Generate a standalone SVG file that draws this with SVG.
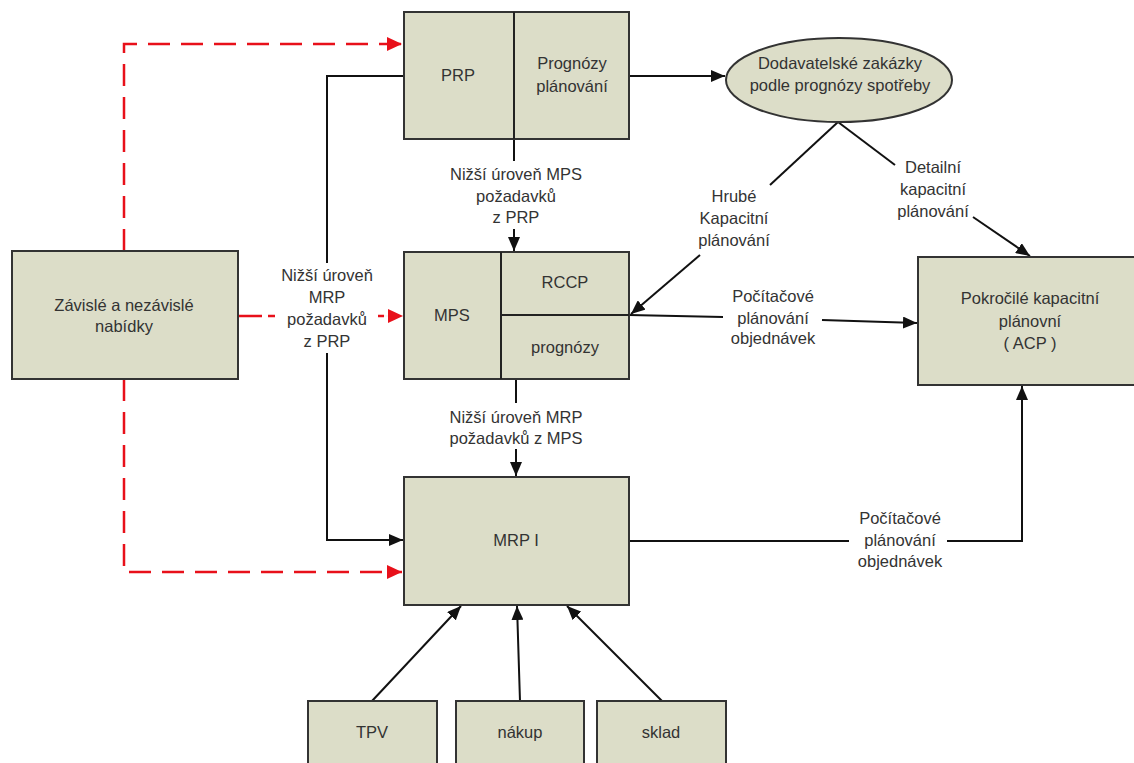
<svg xmlns="http://www.w3.org/2000/svg" width="1134" height="763" viewBox="0 0 1134 763">
  <defs>
    <marker id="arrow" viewBox="0 0 14 12" refX="14" refY="6" markerWidth="14" markerHeight="12" markerUnits="userSpaceOnUse" orient="auto">
      <path d="M0,0 L14,6 L0,12 Z" fill="#111"/>
    </marker>
    <marker id="arrowRed" viewBox="0 0 15 14" refX="15" refY="7" markerWidth="15" markerHeight="14" markerUnits="userSpaceOnUse" orient="auto">
      <path d="M0,0 L15,7 L0,14 Z" fill="#e8101a"/>
    </marker>
    <style>
      .box { fill: #dcddc8; stroke: #333; stroke-width: 2; }
      .div { stroke: #222; stroke-width: 2; fill: none; }
      .t { font-family: "Liberation Sans", Arial, sans-serif; font-size: 16.5px; fill: #333; text-anchor: middle; }
      .lbl { font-family: "Liberation Sans", Arial, sans-serif; font-size: 16.5px; fill: #333; text-anchor: middle; }
      .ln { stroke: #111; stroke-width: 2; fill: none; }
      .red { stroke: #e8101a; stroke-width: 2.5; fill: none; stroke-dasharray: 22 11; }
      .redsolid { stroke: #e8101a; stroke-width: 2.5; fill: none; }
    </style>
  </defs>
  <rect width="1134" height="763" fill="#fff"/>

  <!-- connectors -->
  <g id="connectors">
    <!-- dashed supply links from the left box -->
    <path class="red" d="M124,251 V44 H402" marker-end="url(#arrowRed)"/>
    <path class="redsolid" d="M238,316 H262 M268,316 H275 M378,316 H384"/>
    <path class="redsolid" d="M384,316 H403" style="stroke-width:0.1" marker-end="url(#arrowRed)"/>
    <path class="red" d="M124,379 V572 H402" marker-end="url(#arrowRed)"/>

    <!-- PRP to MRP I -->
    <path class="ln" d="M404,76 H327 V263"/>
    <path class="ln" d="M327,353 V540 H403" marker-end="url(#arrow)"/>

    <!-- PRP to forecast orders -->
    <path class="ln" d="M629,76 H725" marker-end="url(#arrow)"/>

    <!-- PRP to MPS -->
    <path class="ln" d="M514,139 V161"/>
    <path class="ln" d="M514,229 V251" marker-end="url(#arrow)"/>

    <!-- MPS to MRP I -->
    <path class="ln" d="M516,379 V403"/>
    <path class="ln" d="M516,449 V476" marker-end="url(#arrow)"/>

    <!-- ellipse to MPS (rough capacity) -->
    <path class="ln" d="M838,122 L770,185"/>
    <path class="ln" d="M700,255 L631,314" marker-end="url(#arrow)"/>

    <!-- ellipse to ACP (detailed capacity) -->
    <path class="ln" d="M838,122 L895,165"/>
    <path class="ln" d="M973,217 L1030,256" marker-end="url(#arrow)"/>

    <!-- MPS to ACP -->
    <path class="ln" d="M629,315 L723,317"/>
    <path class="ln" d="M822,320 L917,323" marker-end="url(#arrow)"/>

    <!-- MRP I to ACP -->
    <path class="ln" d="M629,541 H849"/>
    <path class="ln" d="M947,541 H1022 V386" marker-end="url(#arrow)"/>

    <!-- bottom inputs -->
    <path class="ln" d="M372,701 L461,606" marker-end="url(#arrow)"/>
    <path class="ln" d="M520,701 L517,606" marker-end="url(#arrow)"/>
    <path class="ln" d="M662,701 L567,606" marker-end="url(#arrow)"/>
  </g>

  <!-- connector labels -->
  <g id="labels">
    <text class="lbl" x="327" y="281">Nižší úroveň</text>
    <text class="lbl" x="327" y="303">MRP</text>
    <text class="lbl" x="327" y="325">požadavků</text>
    <text class="lbl" x="327" y="347">z PRP</text>

    <text class="lbl" x="516" y="180">Nižší úroveň MPS</text>
    <text class="lbl" x="516" y="202">požadavků</text>
    <text class="lbl" x="516" y="223">z PRP</text>

    <text class="lbl" x="516" y="423">Nižší úroveň MRP</text>
    <text class="lbl" x="516" y="444">požadavků z MPS</text>

    <text class="lbl" x="734" y="202">Hrubé</text>
    <text class="lbl" x="734" y="224">Kapacitní</text>
    <text class="lbl" x="734" y="246">plánování</text>

    <text class="lbl" x="933" y="173">Detailní</text>
    <text class="lbl" x="933" y="195">kapacitní</text>
    <text class="lbl" x="933" y="217">plánování</text>

    <text class="lbl" x="773" y="302">Počítačové</text>
    <text class="lbl" x="773" y="324">plánování</text>
    <text class="lbl" x="773" y="344">objednávek</text>

    <text class="lbl" x="900" y="524">Počítačové</text>
    <text class="lbl" x="900" y="546">plánování</text>
    <text class="lbl" x="900" y="567">objednávek</text>
  </g>

  <!-- nodes -->
  <g id="node-zavisle">
    <rect class="box" x="12" y="251" width="226" height="128"/>
    <text class="t" x="124" y="311">Závislé a nezávislé</text>
    <text class="t" x="124" y="332">nabídky</text>
  </g>

  <g id="node-prp">
    <rect class="box" x="404" y="12" width="225" height="127"/>
    <line class="div" x1="514" y1="12" x2="514" y2="139"/>
    <text class="t" x="458" y="81">PRP</text>
    <text class="t" x="572" y="69">Prognózy</text>
    <text class="t" x="572" y="92">plánování</text>
  </g>

  <g id="node-dodavatelske">
    <ellipse cx="839" cy="80" rx="113" ry="42" fill="#dcddc8" stroke="#333" stroke-width="2"/>
    <text class="t" x="840" y="69">Dodavatelské zakázky</text>
    <text class="t" x="840" y="91">podle prognózy spotřeby</text>
  </g>

  <g id="node-mps">
    <rect class="box" x="404" y="252" width="225" height="127"/>
    <line class="div" x1="501" y1="252" x2="501" y2="379"/>
    <line class="div" x1="501" y1="315" x2="629" y2="315"/>
    <text class="t" x="452" y="321">MPS</text>
    <text class="t" x="565" y="288">RCCP</text>
    <text class="t" x="565" y="353">prognózy</text>
  </g>

  <g id="node-acp">
    <rect class="box" x="918" y="257" width="222" height="128"/>
    <text class="t" x="1030" y="304">Pokročilé kapacitní</text>
    <text class="t" x="1030" y="327">plánovní</text>
    <text class="t" x="1030" y="349">( ACP )</text>
  </g>

  <g id="node-mrp">
    <rect class="box" x="404" y="477" width="225" height="128"/>
    <text class="t" x="516" y="546">MRP I</text>
  </g>

  <g id="node-tpv">
    <rect class="box" x="308" y="701" width="129" height="70"/>
    <text class="t" x="372" y="738">TPV</text>
  </g>

  <g id="node-nakup">
    <rect class="box" x="456" y="701" width="128" height="70"/>
    <text class="t" x="520" y="738">nákup</text>
  </g>

  <g id="node-sklad">
    <rect class="box" x="597" y="701" width="129" height="70"/>
    <text class="t" x="661" y="738">sklad</text>
  </g>
</svg>
